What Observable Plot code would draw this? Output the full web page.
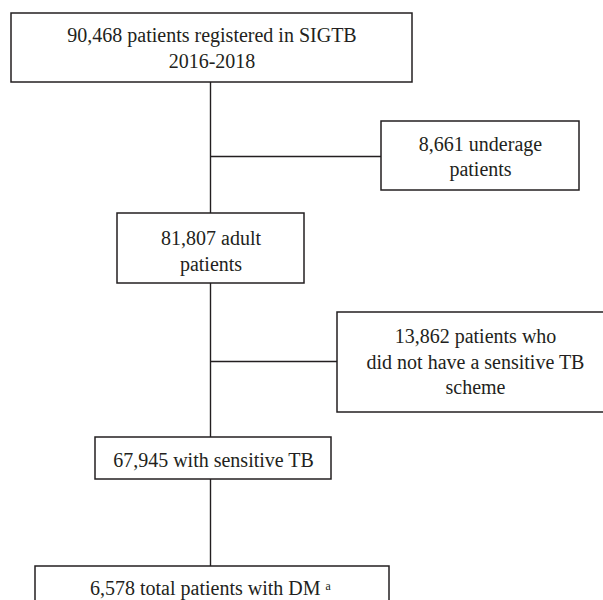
<!DOCTYPE html>
<html>
<head>
<meta charset="utf-8">
<script src="https://cdn.jsdelivr.net/npm/d3@7"></script>
<script src="https://cdn.jsdelivr.net/npm/@observablehq/plot@0.6"></script>
<style>
  html, body { margin: 0; padding: 0; background: #fff; overflow: hidden; }
  #chart svg { overflow: hidden; display: block; }
  #chart svg text { font-family: "Liberation Serif", "DejaVu Serif", serif; }
</style>
</head>
<body>
<div id="chart"></div>
<script>
// ---- data ----
const counts = [90468, 8661, 81807, 13862, 67945, 6578];
const fmt = d3.format(",");
const labelLines = [
  [`${fmt(counts[0])} patients registered in SIGTB`, "2016-2018"],
  [`${fmt(counts[1])} underage`, "patients"],
  [`${fmt(counts[2])} adult`, "patients"],
  [`${fmt(counts[3])} patients who`, "did not have a sensitive TB", "scheme"],
  [`${fmt(counts[4])} with sensitive TB`],
  [`${fmt(counts[5])} total patients with DM \u1D43`]
];

// ---- layout (flowchart geometry, in scale units) ----
const boxX1 = [11, 381, 117, 337, 95, 35];
const boxX2 = [412, 579, 304, 614, 331, 389];
const boxY1 = [13, 121, 213, 312, 437, 566];
const boxY2 = [82, 190, 283, 412, 479, 630];
const textX = [211.5, 480, 210.5, 475, 213, 210];
const baselines = [[41.5, 67], [150, 175], [244, 270], [342, 368, 393.5], [466], [594]];
const spineX = 210;
const sideY = [156, 361];

const boxes = boxX1.map((x1, i) => ({x1, x2: boxX2[i], y1: boxY1[i], y2: boxY2[i]}));
const lines = labelLines.flatMap((ls, i) => ls.map((t, j) => ({text: t, x: textX[i], y: baselines[i][j]})));
const spine = [
  {y1: boxY2[0], y2: boxY1[2]},
  {y1: boxY2[2], y2: boxY1[4]},
  {y1: boxY2[4], y2: boxY1[5]}
];
const branches = [
  {y: sideY[0], x1: spineX, x2: boxX1[1]},
  {y: sideY[1], x1: spineX, x2: boxX1[3]}
];

const ink = "#231f20";
const serif = "'Liberation Serif', 'DejaVu Serif', serif";
const chart = Plot.plot({
  width: 603,
  height: 600,
  margin: 0,
  style: {background: "#fff", fontFamily: serif},
  x: {domain: [0, 603], range: [0, 603], axis: null},
  y: {domain: [0, 600], range: [0, 600], axis: null},
  marks: [
    Plot.ruleX(spine, {x: spineX, y1: "y1", y2: "y2", stroke: ink, strokeWidth: 1.4}),
    Plot.ruleY(branches, {y: "y", x1: "x1", x2: "x2", stroke: ink, strokeWidth: 1.4}),
    Plot.rect(boxes, {x1: "x1", x2: "x2", y1: "y1", y2: "y2", fill: "#fff", stroke: ink, strokeWidth: 1.5}),
    Plot.text(lines, {x: "x", y: "y", text: "text", textAnchor: "middle", lineAnchor: "bottom", fontSize: 20, fontFamily: serif, fill: ink})
  ]
});
document.getElementById("chart").appendChild(chart);
</script>
</body>
</html>
